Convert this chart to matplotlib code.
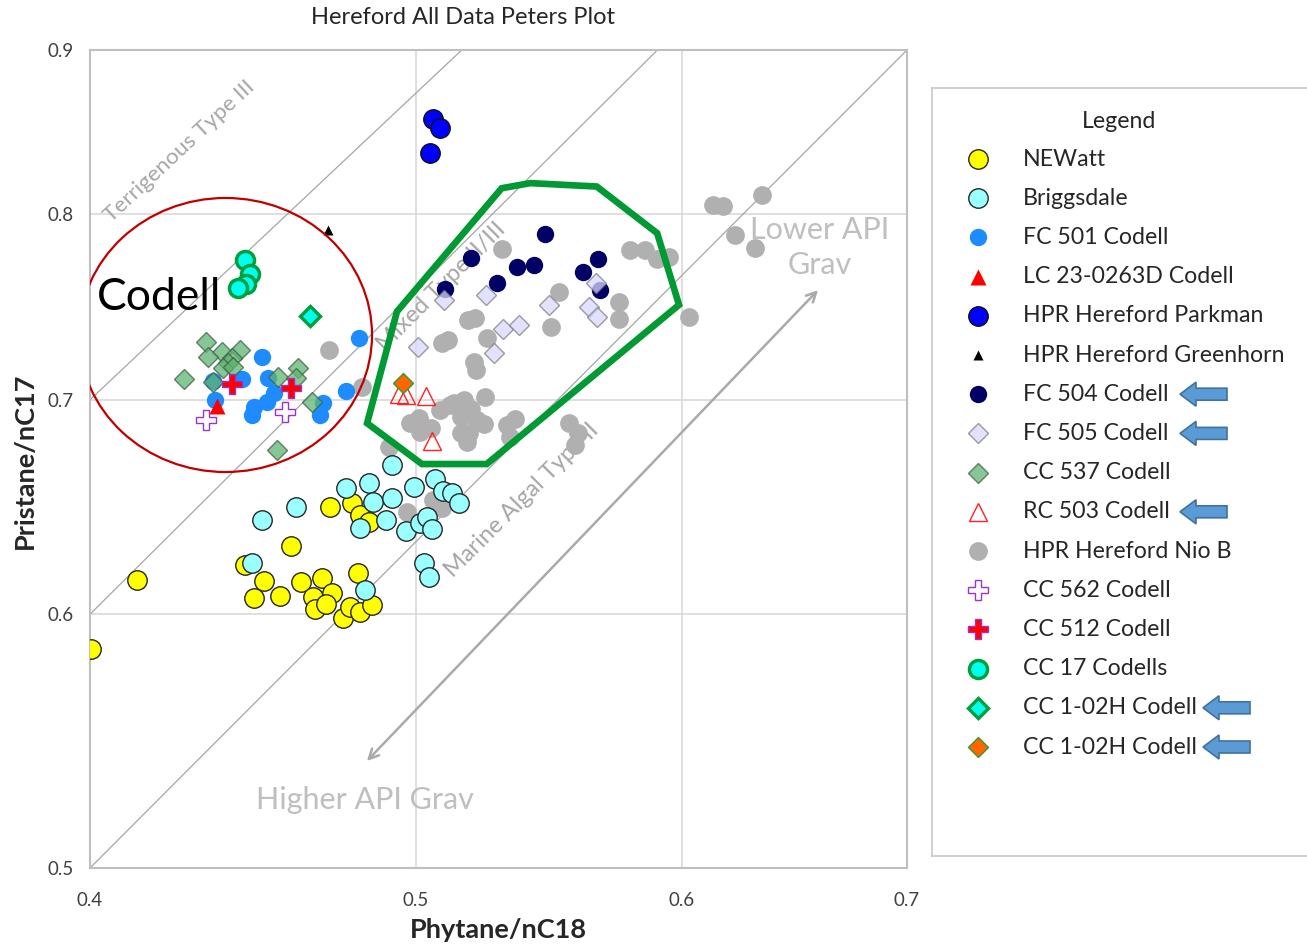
import numpy as np
import matplotlib
matplotlib.use("Agg")
import matplotlib.pyplot as plt
from matplotlib.patches import Ellipse, Polygon

plt.rcParams['font.family'] = ['Lato', 'DejaVu Sans']

# Phytane/nC18 (x) and Pristane/nC17 (y) by sample set
newatt_x = [0.4003, 0.4132, 0.4715, 0.4787, 0.4814, 0.4842, 0.4590, 0.4448, 0.4505, 0.4477, 0.4556,
            0.4622, 0.4688, 0.4659, 0.4720, 0.4667, 0.4702, 0.4806, 0.4757, 0.4779, 0.4814, 0.4853]
newatt_y = [0.5852, 0.6150, 0.6482, 0.6498, 0.6444, 0.6413, 0.6302, 0.6216, 0.6145, 0.6069, 0.6079,
            0.6142, 0.6157, 0.6076, 0.6091, 0.6023, 0.6044, 0.6182, 0.5983, 0.6033, 0.6011, 0.6040]

briggs_x = [0.4919, 0.4768, 0.4841, 0.4856, 0.4919, 0.4995, 0.5065, 0.5094, 0.5126, 0.5152, 0.4898,
            0.4812, 0.4967, 0.5013, 0.5039, 0.5056, 0.4606, 0.4501, 0.4468, 0.5027, 0.5044, 0.4828]
briggs_y = [0.6680, 0.6569, 0.6592, 0.6506, 0.6524, 0.6576, 0.6611, 0.6557, 0.6545, 0.6498, 0.6421,
            0.6382, 0.6370, 0.6408, 0.6436, 0.6378, 0.6482, 0.6421, 0.6224, 0.6224, 0.6164, 0.6106]

fc501_x = [0.4808, 0.4499, 0.4353, 0.4438, 0.4520, 0.4536, 0.4515, 0.4476, 0.4468, 0.4358, 0.4693, 0.4683, 0.4768]
fc501_y = [0.7316, 0.7217, 0.7095, 0.7106, 0.7109, 0.7033, 0.6991, 0.6965, 0.6924, 0.6999, 0.6982, 0.6924, 0.7046]

lc23_x = [0.4364]
lc23_y = [0.6970]

parkman_x = [0.5061, 0.5085, 0.5050]
parkman_y = [0.8564, 0.8512, 0.8357]

greenhorn_x = [0.4709]
greenhorn_y = [0.7909]

fc504_x = [0.5464, 0.5192, 0.5358, 0.5420, 0.5285, 0.5100, 0.5664, 0.5607, 0.5673]
fc504_y = [0.7886, 0.7749, 0.7703, 0.7712, 0.7611, 0.7580, 0.7744, 0.7672, 0.7575]

fc505_x = [0.5097, 0.5246, 0.5479, 0.5628, 0.5660, 0.5657, 0.5009, 0.5309, 0.5367, 0.5276]
fc505_y = [0.7521, 0.7548, 0.7494, 0.7484, 0.7431, 0.7611, 0.7272, 0.7364, 0.7387, 0.7241]

cc537_x = [0.4332, 0.4378, 0.4337, 0.4433, 0.4408, 0.4398, 0.4383, 0.4413, 0.4266, 0.4353, 0.4551,
           0.4614, 0.4606, 0.4656, 0.4546]
cc537_y = [0.7297, 0.7246, 0.7217, 0.7255, 0.7212, 0.7186, 0.7160, 0.7169, 0.7107, 0.7092, 0.7113,
           0.7160, 0.7109, 0.6989, 0.6750]

rc503_x = [0.4943, 0.4967, 0.5036, 0.5057]
rc503_y = [0.7029, 0.7022, 0.7019, 0.6796]

niob_x = [0.4712, 0.4820, 0.4909, 0.4970, 0.5061, 0.5092, 0.5303, 0.5517, 0.5486, 0.5181, 0.5207,
          0.5110, 0.5091, 0.5249, 0.5202, 0.5212, 0.5242, 0.5167, 0.5117, 0.5085, 0.5192, 0.5156,
          0.4981, 0.5011, 0.5054, 0.5185, 0.5240, 0.5180, 0.5321, 0.5352, 0.5334, 0.5553, 0.5586,
          0.5578, 0.5792, 0.5852, 0.5899, 0.5947, 0.5745, 0.5745, 0.6029, 0.6130, 0.6172, 0.6339,
          0.6224, 0.6310, 0.5015, 0.5131, 0.5214, 0.5156]
niob_y = [0.7255, 0.7065, 0.6767, 0.6458, 0.6514, 0.6476, 0.7800, 0.7561, 0.7376, 0.7413, 0.7424,
          0.7307, 0.7290, 0.7316, 0.7193, 0.7152, 0.7016, 0.6999, 0.6974, 0.6949, 0.6954, 0.6916,
          0.6883, 0.6909, 0.6860, 0.6833, 0.6879, 0.6792, 0.6874, 0.6904, 0.6817, 0.6883, 0.6835,
          0.6776, 0.7796, 0.7796, 0.7745, 0.7757, 0.7510, 0.7419, 0.7429, 0.8052, 0.8046, 0.8110,
          0.7880, 0.7807, 0.6840, 0.6984, 0.6899, 0.6835]

cc562_x = [0.4332, 0.4572]
cc562_y = [0.6899, 0.6941]

cc512_x = [0.4410, 0.4590]
cc512_y = [0.7080, 0.7058]

cc17_x = [0.4448, 0.4462, 0.4451, 0.4427]
cc17_y = [0.7737, 0.7660, 0.7605, 0.7584]

cc102_x = [0.4652]
cc102_y = [0.7434]

cc102o_x = [0.4957]
cc102o_y = [0.7083]

# Oil family field outline
field_x = [0.4836, 0.4936, 0.5303, 0.5408, 0.5660, 0.5899, 0.5988, 0.5249, 0.5021]
field_y = [0.6883, 0.7458, 0.8149, 0.8179, 0.8159, 0.7890, 0.7494, 0.6684, 0.6684]

# source-type boundary lines
bound_x = [(0.4, 0.7), (0.4, 0.590), (0.4, 0.516)]
bound_y = [(0.5, 0.9), (0.6, 0.9), (0.7, 0.9)]

x_ticks = [0.4, 0.5, 0.6, 0.7]
y_ticks = [0.5, 0.6, 0.7, 0.8, 0.9]

series = [
    # label, x, y, style, zorder, legend arrow
    ('NEWatt', newatt_x, newatt_y,
     dict(marker='o', ms=14, mfc='#FFFF00', mec='#262626', mew=1.0), 4, False),
    ('Briggsdale', briggs_x, briggs_y,
     dict(marker='o', ms=14, mfc='#99FFFF', mec='#262626', mew=1.0), 5, False),
    ('FC 501 Codell', fc501_x, fc501_y,
     dict(marker='o', ms=12.5, mfc='#1E8CFF', mec='none'), 6, False),
    ('LC 23-0263D Codell', lc23_x, lc23_y,
     dict(marker='^', ms=12, mfc='#FF0000', mec='none'), 7, False),
    ('HPR Hereford Parkman', parkman_x, parkman_y,
     dict(marker='o', ms=14, mfc='#0000FF', mec='#111111', mew=1.0), 7, False),
    ('HPR Hereford Greenhorn', greenhorn_x, greenhorn_y,
     dict(marker='^', ms=7.5, mfc='#000000', mec='none'), 7, False),
    ('FC 504 Codell', fc504_x, fc504_y,
     dict(marker='o', ms=12.5, mfc='#000066', mec='none'), 7, True),
    ('FC 505 Codell', fc505_x, fc505_y,
     dict(marker='D', ms=10, mfc='#D9D9FF', mec='#7F7F7F', mew=1.0, alpha=0.75), 8, True),
    ('CC 537 Codell', cc537_x, cc537_y,
     dict(marker='D', ms=10, mfc='#5FB472', mec='#3E5F46', mew=1.0, alpha=0.75), 8, False),
    ('RC 503 Codell', rc503_x, rc503_y,
     dict(marker='^', ms=13, mfc='none', mec='#FF2020', mew=1.0), 9, True),
    ('HPR Hereford Nio B', niob_x, niob_y,
     dict(marker='o', ms=13.5, mfc='#B0B0B0', mec='none'), 3, False),
    ('CC 562 Codell', cc562_x, cc562_y,
     dict(marker='P', ms=15, mfc='#FFFFFF', mec='#9933CC', mew=1.0), 9, False),
    ('CC 512 Codell', cc512_x, cc512_y,
     dict(marker='P', ms=15, mfc='#FF0000', mec='#9933CC', mew=1.0), 9, False),
    ('CC 17 Codells', cc17_x, cc17_y,
     dict(marker='o', ms=13, mfc='#00FFEE', mec='#00A040', mew=2.5), 9, False),
    ('CC 1-02H Codell', cc102_x, cc102_y,
     dict(marker='D', ms=10, mfc='#00FFEE', mec='#00A040', mew=2.5), 9, True),
    ('CC 1-02H Codell', cc102o_x, cc102o_y,
     dict(marker='D', ms=10, mfc='#FF6600', mec='#339933', mew=1.0), 10, True),
]

fig = plt.figure(figsize=(13.07, 9.51), dpi=100)
ax = fig.add_axes([90 / 1307, 83 / 951, 817 / 1307, 818 / 951])

ax.set_xscale('log')
ax.set_yscale('log')
ax.set_xlim(0.4, 0.7)
ax.set_ylim(0.5, 0.9)
ax.xaxis.set_major_locator(matplotlib.ticker.FixedLocator(x_ticks))
ax.yaxis.set_major_locator(matplotlib.ticker.FixedLocator(y_ticks))
ax.xaxis.set_minor_locator(matplotlib.ticker.NullLocator())
ax.yaxis.set_minor_locator(matplotlib.ticker.NullLocator())
ax.set_xticklabels([f'{t:.1f}' for t in x_ticks])
ax.set_yticklabels([f'{t:.1f}' for t in y_ticks])
ax.tick_params(length=0, labelsize=13.5, labelcolor='#404040')
ax.tick_params(axis='x', pad=17)
ax.tick_params(axis='y', pad=12)
ax.grid(True, color='#D9D9D9', lw=1.2, zorder=0)
ax.set_axisbelow(True)
for sp in ax.spines.values():
    sp.set_color('#BFBFBF')
    sp.set_linewidth(1.5)

for bx, by in zip(bound_x, bound_y):
    ax.plot(bx, by, color='#A6A6A6', lw=0.9, zorder=1)

for label, xs, ys, st, z, _ in series:
    ax.plot(xs, ys, ls='none', zorder=z, **st)

ax.add_patch(Polygon(np.column_stack([field_x, field_y]), closed=True, fill=False,
                     ec='#009933', lw=4.8, joinstyle='miter', zorder=12))
ax.add_patch(Ellipse((0.1659, 0.6516), 0.3586, 0.335, transform=ax.transAxes,
                     fill=False, ec='#C00000', lw=1.6, zorder=12))

label_gray = '#A6A6A6'
ax.text(0.1090, 0.8765, 'Terrigenous Type III', transform=ax.transAxes, rotation=43,
        ha='center', va='center', fontsize=16.2, color=label_gray, zorder=2)
ax.text(0.4296, 0.7103, 'Mixed Type II/III', transform=ax.transAxes, rotation=45,
        ha='center', va='center', fontsize=17, color=label_gray, zorder=2)
ax.text(0.5288, 0.4499, 'Marine Algal Type II', transform=ax.transAxes, rotation=45,
        ha='center', va='center', fontsize=17, color=label_gray, zorder=2)
ax.text(0.8935, 0.7590, 'Lower API\nGrav', transform=ax.transAxes, ha='center', va='center',
        fontsize=22, color='#BFBFBF', linespacing=1.3, zorder=2)
ax.text(0.3366, 0.0831, 'Higher API Grav', transform=ax.transAxes, ha='center', va='center',
        fontsize=22, color='#BFBFBF', zorder=2)
ax.text(0.0845, 0.698, 'Codell', transform=ax.transAxes, ha='center', va='center',
        fontsize=32, color='black', zorder=13)
ax.annotate('', xy=(0.3366, 0.1284), xytext=(0.8935, 0.7090), xycoords='axes fraction',
            arrowprops=dict(arrowstyle='<->,head_length=0.7,head_width=0.35', color='#AAAAAA', lw=1.8),
            zorder=2)

fig.text(463 / 1307, 1 - 17 / 951, 'Hereford All Data Peters Plot', ha='center', va='center',
         fontsize=17, color='#262626')
fig.text(498 / 1307, 1 - 930 / 951, 'Phytane/nC18', ha='center', va='center',
         fontsize=19.5, fontweight='bold', color='#262626')
fig.text(25 / 1307, 1 - 461 / 951, 'Pristane/nC17', ha='center', va='center', rotation=90,
         fontsize=19.5, fontweight='bold', color='#262626')

# legend panel drawn by hand so the arrow callouts can sit beside entries
lg = fig.add_axes([932 / 1307, 95 / 951, 390 / 1307, 768 / 951])
lg.set_xlim(0, 390)
lg.set_ylim(768, 0)
lg.set_xticks([])
lg.set_yticks([])
for sp in lg.spines.values():
    sp.set_color('#C8C8C8')
    sp.set_linewidth(1.2)
lg.spines['right'].set_visible(False)
lg.text(187, 33, 'Legend', ha='center', va='center', fontsize=16.7, color='#262626')

for i, (label, xs, ys, st, z, arrow) in enumerate(series):
    yy = 71 + 39.2 * i
    lg.plot([46], [yy], ls='none', **st)
    lg.text(91, yy, label, ha='left', va='center', fontsize=16.7, color='#262626')
    if arrow:
        x0 = 271 if label.startswith('CC 1-02H') else 248
        pts = [(x0, yy), (x0 + 16, yy - 12), (x0 + 16, yy - 6), (x0 + 47, yy - 6),
               (x0 + 47, yy + 6), (x0 + 16, yy + 6), (x0 + 16, yy + 12)]
        lg.add_patch(Polygon(pts, closed=True, fc='#5B9BD5', ec='#41719C', lw=1.2))

fig.savefig('out.png', dpi=100)
